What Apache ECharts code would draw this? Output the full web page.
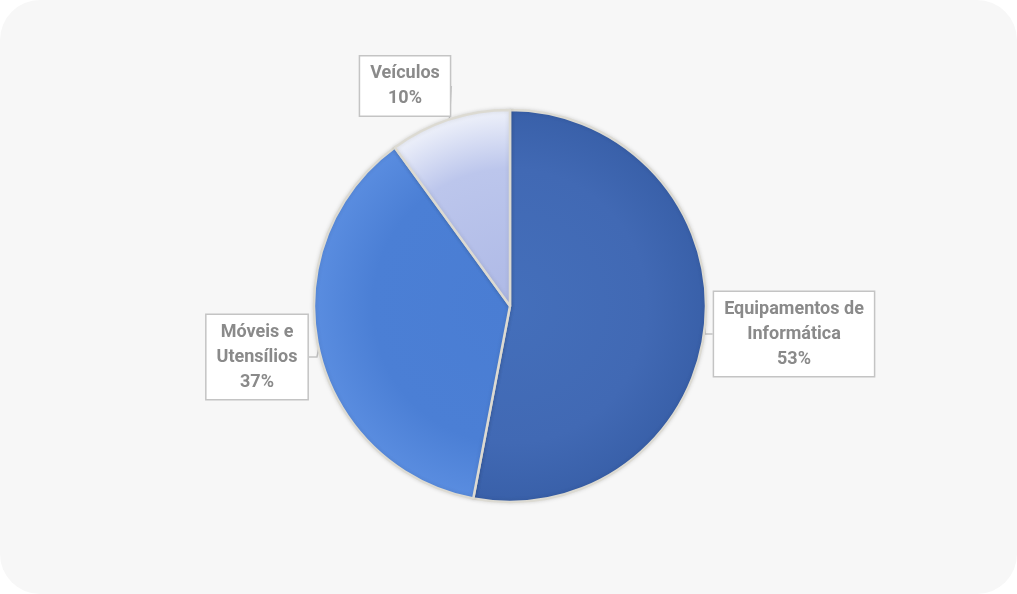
<!DOCTYPE html>
<html>
<head>
<meta charset="utf-8">
<script src="https://cdn.jsdelivr.net/npm/echarts@6/dist/echarts.min.js"></script>
<style>
html,body{margin:0;padding:0;background:#ffffff;}
#card{position:absolute;left:0;top:0;width:1017px;height:594px;background:#f7f7f7;border-radius:40px;}
#chart{position:absolute;left:0;top:0;width:1017px;height:594px;}
</style>
</head>
<body>
<div id="card"></div>
<div id="chart"></div>
<script>
// Data
var categories = ['Equipamentos de\nInformática', 'Móveis e\nUtensílios', 'Veículos'];
var values = [53, 37, 10];

// Styling (not data)
var sliceColors = [
  ['#446fbb', '#4169b4', '#3960a9'],
  ['#4a7dd3', '#4b7fd5', '#5a8de0'],
  ['#aeb9e6', '#bcc6ec', '#eef1fa']
];
var labelPos = [[794, 334], [257, 357], [405, 86]];
var pieCenter = [510, 306];
var pieRadius = 196;

var chart = echarts.init(document.getElementById('chart'), null, {renderer: 'canvas'});

var data = categories.map(function (name, i) {
  return {
    name: name,
    value: values[i],
    itemStyle: {
      color: {
        type: 'radial', x: pieCenter[0], y: pieCenter[1], r: pieRadius, global: true,
        colorStops: [
          {offset: 0, color: sliceColors[i][0]},
          {offset: 0.7, color: sliceColors[i][1]},
          {offset: 1, color: sliceColors[i][2]}
        ]
      }
    }
  };
});

chart.setOption({
  backgroundColor: 'transparent',
  animation: false,
  series: [{
    type: 'pie',
    center: pieCenter,
    radius: [0, pieRadius],
    startAngle: 90,
    clockwise: true,
    data: data,
    itemStyle: {
      borderColor: '#dcdad2',
      borderWidth: 2.5,
      shadowColor: 'rgba(0,0,0,0.12)',
      shadowBlur: 4
    },
    label: {
      show: true,
      position: 'outside',
      formatter: function (p) { return p.name + '\n' + Math.round(p.percent) + '%'; },
      fontFamily: 'Roboto, sans-serif',
      fontWeight: 'bold',
      fontSize: 18,
      lineHeight: 25,
      color: '#8a8a8a',
      align: 'center',
      backgroundColor: '#ffffff',
      borderColor: '#c4c4c4',
      borderWidth: 1.5,
      padding: [5, 10, 4, 10]
    },
    labelLine: {
      show: true,
      length: 12,
      length2: 8,
      lineStyle: { color: '#c4c4c4', width: 1.5 }
    },
    labelLayout: function (params) {
      var p = labelPos[params.dataIndex];
      return { x: p[0], y: p[1], align: 'center', verticalAlign: 'middle' };
    },
    emphasis: { disabled: true }
  }]
});
</script>
</body>
</html>
